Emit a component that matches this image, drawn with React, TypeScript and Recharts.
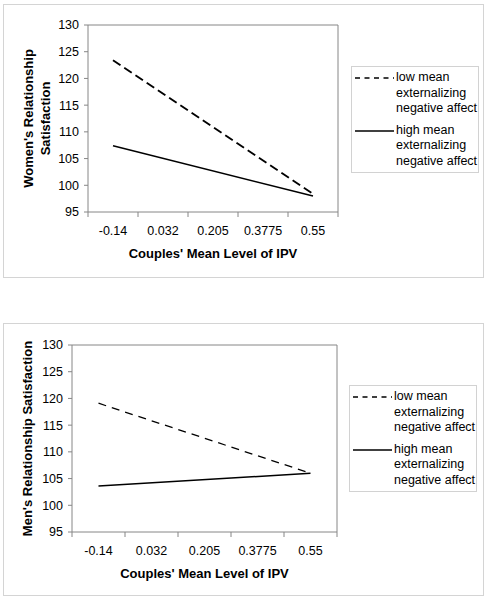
import React from 'react';
import { LineChart, Line, XAxis, YAxis, ReferenceArea, Legend } from 'recharts';

const ipvLevels = ['-0.14', '0.032', '0.205', '0.3775', '0.55'];
const satisfactionTicks = [95, 100, 105, 110, 115, 120, 125, 130];

// only the two end points are plotted, the middle levels stay empty
const womenLowNeg = [123.4, null, null, null, 98.4];
const womenHighNeg = [107.4, null, null, null, 98.0];
const menLowNeg = [119.1, null, null, null, 106.0];
const menHighNeg = [103.6, null, null, null, 106.0];

const seriesKeys = ['low', 'high'];
const legendLines = [
  ['low mean', 'externalizing', 'negative affect'],
  ['high mean', 'externalizing', 'negative affect'],
];

const FONT = '"Liberation Sans", Arial, Helvetica, sans-serif';
const AXIS = '#868686';

const buildData = (low: (number | null)[], high: (number | null)[]) =>
  ipvLevels.map((ipv, i) => ({ ipv, low: low[i], high: high[i] }));

const IpvTick = (props: any) => {
  const { x, y, payload, index, visibleTicksCount } = props;
  const half = payload.offset ?? 0;
  return (
    <g>
      <line x1={x - half} x2={x - half} y1={y - 5} y2={y} stroke={AXIS} />
      {index === visibleTicksCount - 1 && (
        <line x1={x + half} x2={x + half} y1={y - 5} y2={y} stroke={AXIS} />
      )}
      <text x={x} y={y + 17.5} textAnchor="middle" fontSize={12.5} fontFamily={FONT} fill="#000">
        {payload.value}
      </text>
    </g>
  );
};

const YTitle = ({ viewBox, lines, xs }: any) => {
  const cy = viewBox ? viewBox.y + viewBox.height / 2 : 118;
  return (
    <g>
      {lines.map((l: string, i: number) => (
        <text
          key={l}
          x={xs[i]}
          y={cy}
          transform={`rotate(-90, ${xs[i]}, ${cy})`}
          textAnchor="middle"
          fontSize={13}
          fontWeight="bold"
          fontFamily={FONT}
          fill="#000"
        >
          {l}
        </text>
      ))}
    </g>
  );
};

const XTitle = ({ viewBox }: any) => (
  <text
    x={viewBox.x + viewBox.width / 2}
    y={viewBox.y + 46}
    textAnchor="middle"
    fontSize={13}
    fontWeight="bold"
    fontFamily={FONT}
    fill="#000"
  >
    Couples' Mean Level of IPV
  </text>
);

const LegendBox = ({ payload }: any) => {
  const items = seriesKeys.map((k) => (payload || []).find((p: any) => p.dataKey === k)).filter(Boolean);
  return (
    <div
      style={{
        border: '1px solid #d2d2d2',
        boxSizing: 'border-box',
        padding: '3px 0 3px 2px',
        background: '#fff',
        fontFamily: FONT,
        fontSize: 12.5,
        lineHeight: '15.5px',
        color: '#000',
      }}
    >
      {items.map((entry: any, i: number) => (
        <div key={entry.dataKey} style={{ display: 'flex', marginTop: i > 0 ? 6 : 0 }}>
          <svg width={41} height={15.5} style={{ flex: 'none' }}>
            <line
              x1={1}
              x2={40}
              y1={8}
              y2={8}
              stroke="#000"
              strokeWidth={1.3}
              strokeDasharray={entry.dataKey === 'low' ? '5 4.5' : undefined}
            />
          </svg>
          <div style={{ paddingLeft: 1 }}>
            {legendLines[seriesKeys.indexOf(entry.dataKey)].map((t) => (
              <div key={t}>{t}</div>
            ))}
          </div>
        </div>
      ))}
    </div>
  );
};

interface PanelProps {
  low: (number | null)[];
  high: (number | null)[];
  yTitle: string[];
  yTitleX: number[];
  yAxisWidth: number;
  plotRight: number;
  dash: string;
  dashWidth: number;
  legendLeft: number;
  legendTop: number;
}

const Panel: React.FC<PanelProps> = ({
  low, high, yTitle, yTitleX, yAxisWidth, plotRight, dash, dashWidth, legendLeft, legendTop,
}) => {
  const data = buildData(low, high);
  return (
    <LineChart width={488} height={280} data={data} margin={{ top: 25, right: 488 - plotRight, bottom: 8, left: 0 }}>
      <XAxis
        dataKey="ipv"
        scale="band"
        height={60}
        axisLine={false}
        tickLine={false}
        tickSize={5}
        tickMargin={0}
        tick={<IpvTick />}
        interval={0}
        label={<XTitle />}
      />
      <YAxis
        width={yAxisWidth}
        domain={[satisfactionTicks[0], satisfactionTicks[satisfactionTicks.length - 1]]}
        ticks={satisfactionTicks}
        interval={0}
        axisLine={false}
        tickSize={4}
        tickMargin={5}
        tickLine={{ stroke: AXIS }}
        tick={{ fontSize: 12.5, fill: '#000', fontFamily: FONT }}
        label={<YTitle lines={yTitle} xs={yTitleX} />}
      />
      <ReferenceArea
        y1={satisfactionTicks[0]}
        y2={satisfactionTicks[satisfactionTicks.length - 1]}
        fill="none"
        stroke={AXIS}
        strokeWidth={1}
        ifOverflow="visible"
      />
      <Legend
        layout="vertical"
        align="center"
        verticalAlign="middle"
        wrapperStyle={{ left: legendLeft, top: legendTop, width: 128 }}
        content={<LegendBox />}
      />
      <Line
        dataKey="low"
        name="low mean externalizing negative affect"
        stroke="#000"
        strokeWidth={dashWidth}
        strokeDasharray={dash}
        dot={false}
        connectNulls
        isAnimationActive={false}
      />
      <Line
        dataKey="high"
        name="high mean externalizing negative affect"
        stroke="#000"
        strokeWidth={1.5}
        dot={false}
        connectNulls
        isAnimationActive={false}
      />
    </LineChart>
  );
};

export default function App() {
  return (
    <div style={{ position: 'absolute', left: 0, top: 0, width: 488, height: 600, background: '#fff' }}>
      <div style={{ position: 'absolute', left: 3, top: 4, width: 481, height: 274, border: '1px solid #d4d4d4', boxSizing: 'border-box' }} />
      <div style={{ position: 'absolute', left: 3, top: 323, width: 481, height: 273, border: '1px solid #d4d4d4', boxSizing: 'border-box' }} />
      <div style={{ position: 'absolute', left: 0, top: 0 }}>
        <Panel
          low={womenLowNeg}
          high={womenHighNeg}
          yTitle={["Women's Relationship", 'Satisfaction']}
          yTitleX={[32.5, 49.5]}
          yAxisWidth={88}
          plotRight={338}
          dash="9 4.5"
          dashWidth={1.9}
          legendLeft={351}
          legendTop={66}
        />
      </div>
      <div style={{ position: 'absolute', left: 0, top: 320 }}>
        <Panel
          low={menLowNeg}
          high={menHighNeg}
          yTitle={["Men's Relationship Satisfaction"]}
          yTitleX={[32]}
          yAxisWidth={72}
          plotRight={337}
          dash="8 6"
          dashWidth={1.3}
          legendLeft={349}
          legendTop={65}
        />
      </div>
    </div>
  );
}
